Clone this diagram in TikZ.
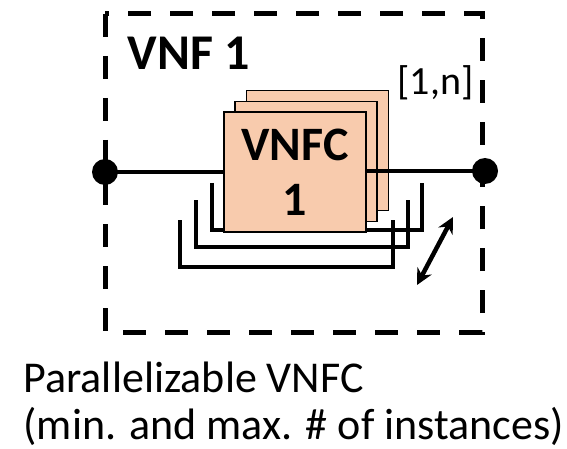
\documentclass[tikz,border=0pt]{standalone}
\usepackage{fontspec}
\setmainfont{Carlito}
\usetikzlibrary{arrows.meta}

\definecolor{vnfcpeach}{RGB}{248,203,173}

\begin{document}
\begin{tikzpicture}[x=1pt,y=-1pt,line cap=butt,line join=miter]
        \useasboundingbox (0,0) rectangle (567,449);
        \tikzset{
          vnfcbox/.style={draw,line width=1.5pt,fill=vnfcpeach,minimum width=142pt,minimum height=120pt,inner sep=0pt},
          port/.style={circle,fill=black,inner sep=0pt,minimum size=26pt},
          wire/.style={line width=4.5pt},
        }

        % Contenedor VNF
        \draw[line width=5pt,dash pattern=on 23pt off 19pt] (105,14) rectangle (482,332);
        \node[anchor=base west,font=\fontsize{50}{60}\selectfont\bfseries] (vnflabel) at (124,70) {VNF 1};

        % Corchetes de instancias
        \draw[wire] (212,183) -- (212,230) -- (422,230) -- (422,183);
        \draw[wire] (196,200) -- (196,247) -- (408,247) -- (408,200);
        \draw[wire] (180,220) -- (180,267) -- (393,267) -- (393,220);

        % Instancias VNFC
        \node[vnfcbox] (vnfcback) at (317.5,150.5) {};
        \node[vnfcbox] (vnfcmid) at (306,161.5) {};
        \node[vnfcbox,align=center,font=\fontsize{48}{55}\selectfont\bfseries] (vnfc) at (295,172) {VNFC\\1};
        \node[anchor=base west,font=\fontsize{40}{46}\selectfont] (mult) at (394,95) {[1,n]};

        % Puertos y enlaces
        \node[port] (portin) at (105,172) {};
        \node[port] (portout) at (485,171) {};
        \draw[wire] (portin.center) -- (vnfc.west);
        \draw[wire] (vnfc.east |- portout) -- (portout.center);

        % Escalado
        \coordinate (scalelo) at (417,285);
        \coordinate (scalehi) at (453,217);
        \draw[wire,{Stealth[length=16pt,width=16pt]}-{Stealth[length=16pt,width=16pt]}] (scalelo) -- (scalehi);

        % Leyenda
        \node[anchor=base west,font=\fontsize{44}{50}\selectfont] (cap1) at (20,392) {Parallelizable VNFC};
        \node[anchor=base west,font=\fontsize{44}{50}\selectfont] (cap2) at (20,439) {(min. and max. \# of instances)};
    \end{tikzpicture}
\end{document}
